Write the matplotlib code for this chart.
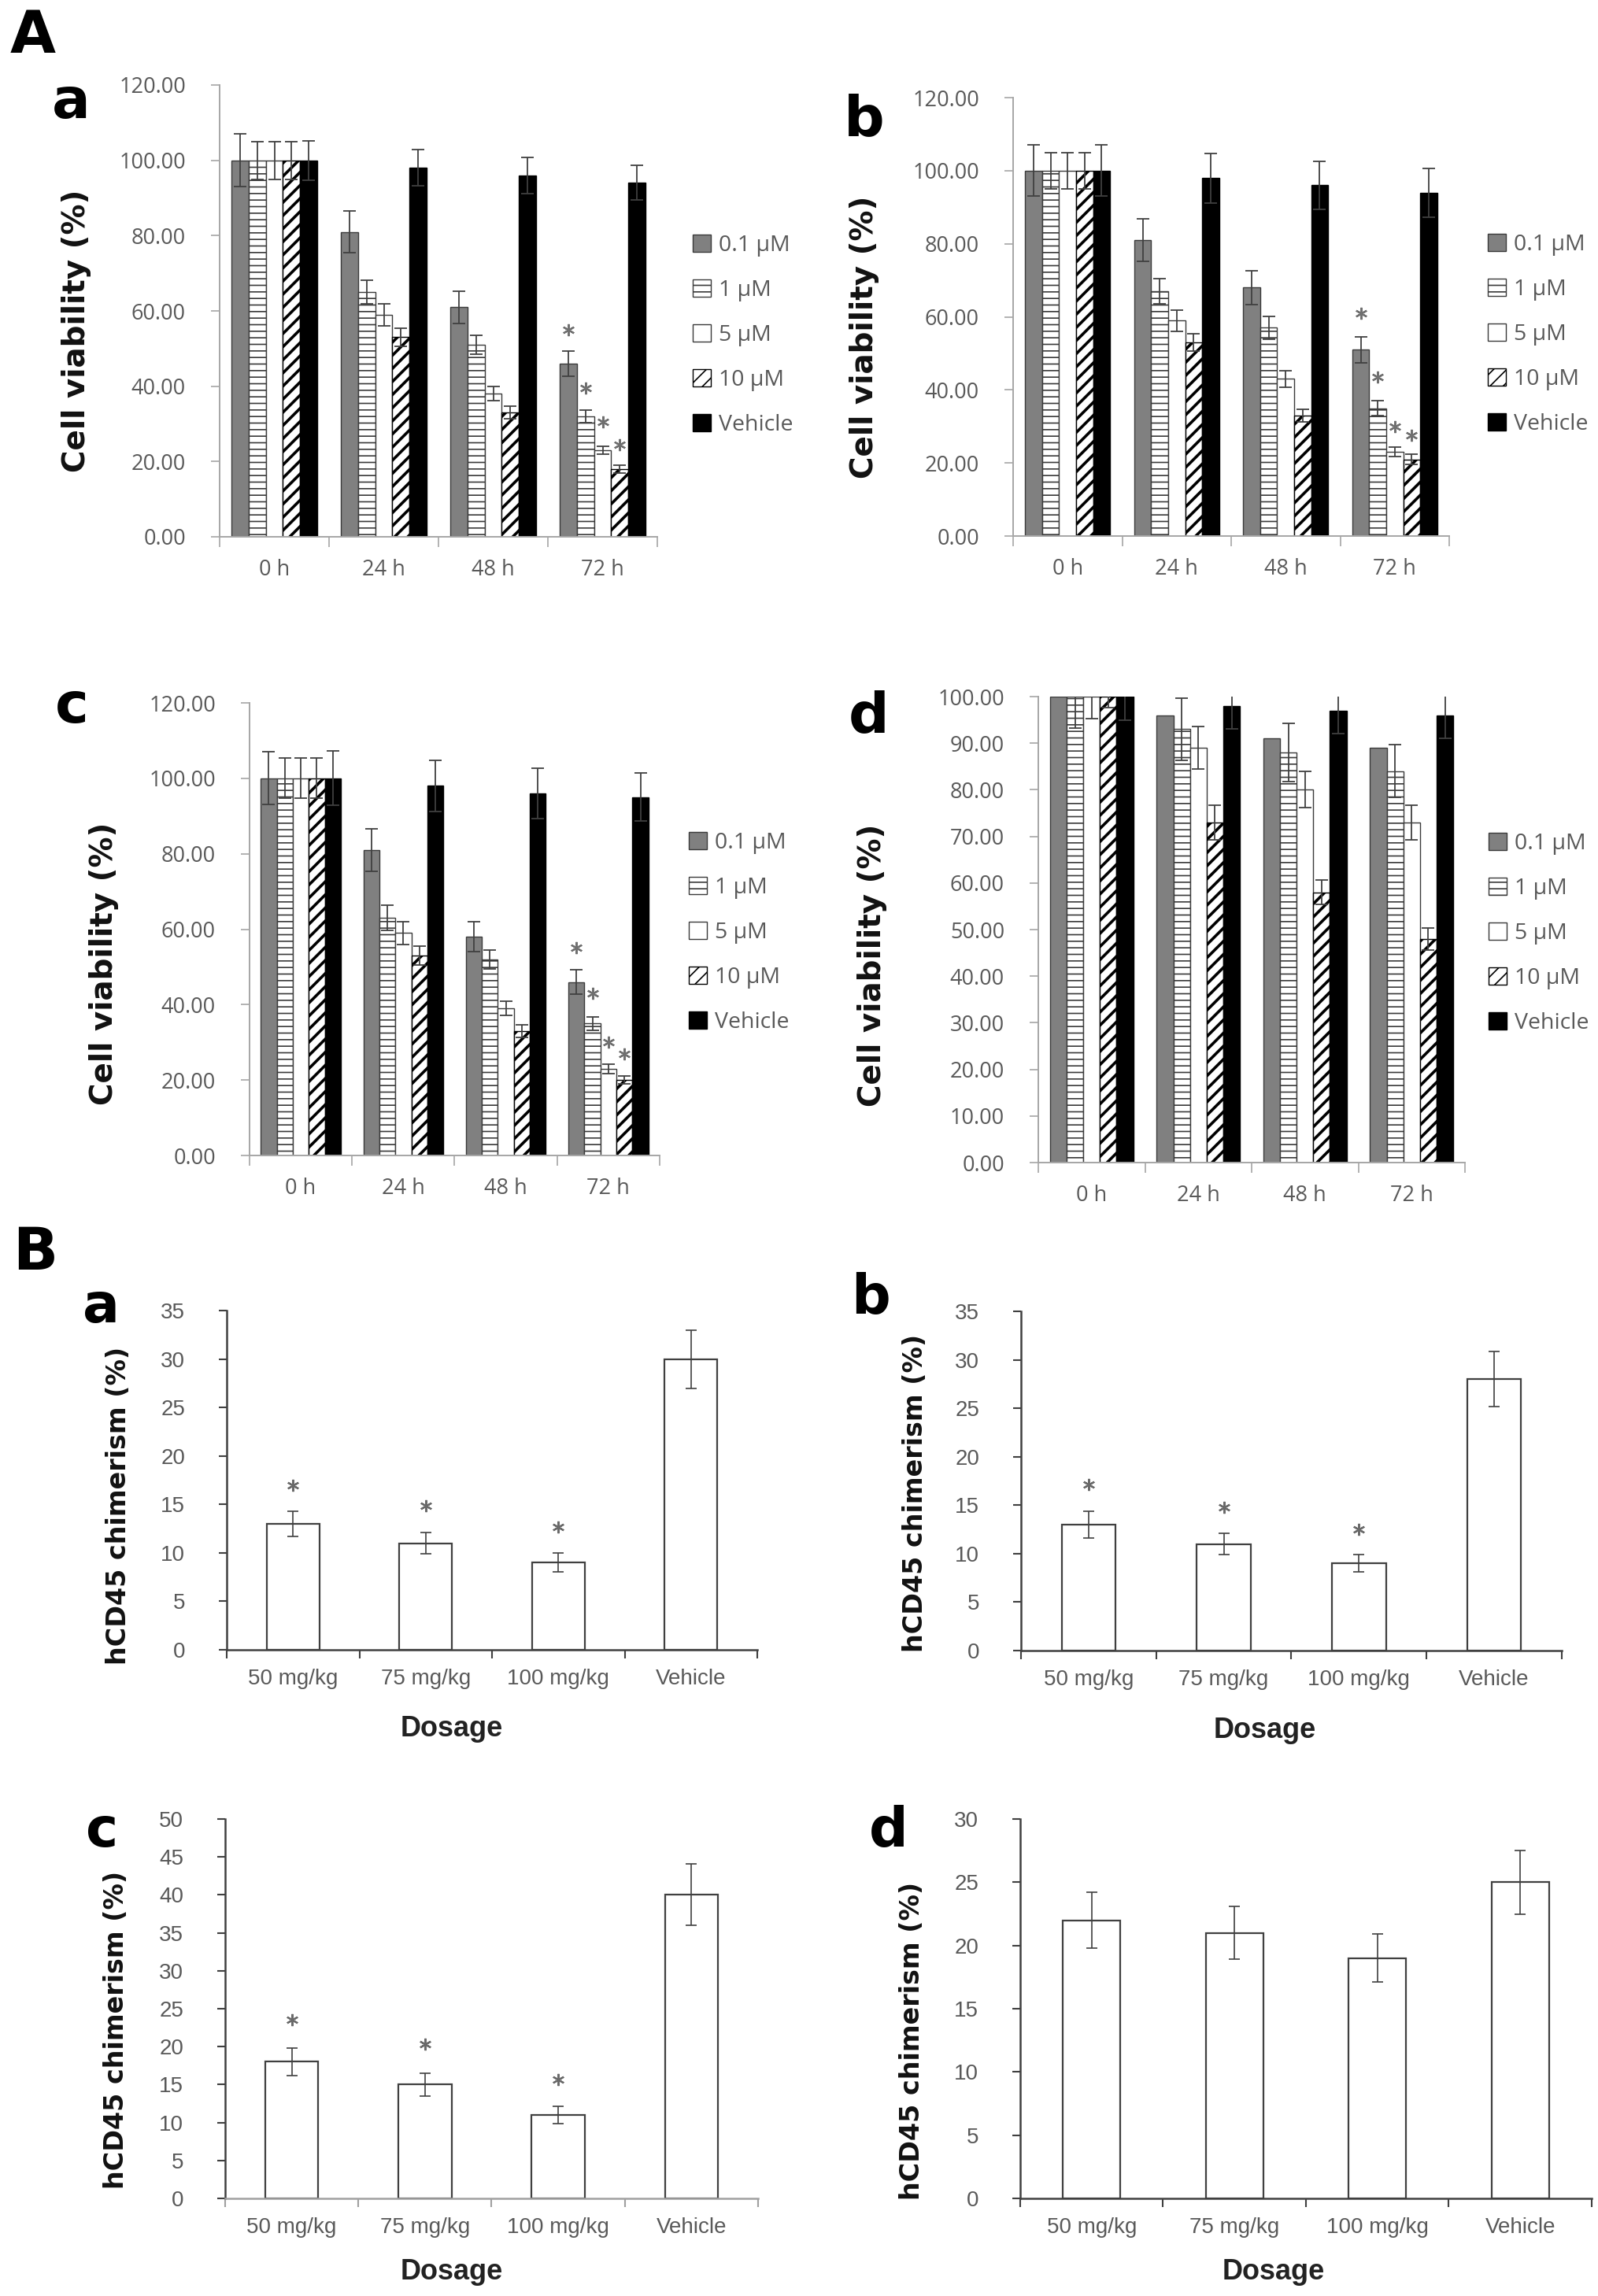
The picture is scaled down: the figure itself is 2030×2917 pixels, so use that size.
import numpy as np
import matplotlib
matplotlib.use('Agg')
import matplotlib.pyplot as plt
from matplotlib.patches import Patch
from matplotlib.ticker import FixedLocator, FormatStrFormatter, NullFormatter

# ---------------- data ----------------
times = ['0 h', '24 h', '48 h', '72 h']
conc = ['0.1 µM', '1 µM', '5 µM', '10 µM', 'Vehicle']

# cell viability (%) per concentration, columns = times
via_a = [[100, 81, 61, 46], [100, 65, 51, 32], [100, 59, 38, 23], [100, 53, 33, 18], [100, 98, 96, 94]]
via_a_err = [[7, 5.5, 4.3, 3.3], [5, 3.2, 2.5, 1.6], [5, 2.9, 1.9, 1.0], [5, 2.5, 1.6, 1.0], [5.2, 4.8, 4.8, 4.6]]
star_a = [55, 39.5, 30.5, 24.5]

via_b = [[100, 81, 68, 51], [100, 67, 57, 35], [100, 59, 43, 23], [100, 53, 33, 21], [100, 98, 96, 94]]
via_b_err = [[7, 5.8, 4.7, 3.5], [5, 3.5, 3.1, 2.0], [5, 2.9, 2.2, 1.3], [5, 2.3, 1.7, 1.3], [7, 6.8, 6.6, 6.7]]
star_b = [61, 43.5, 30, 27.5]

via_c = [[100, 81, 58, 46], [100, 63, 52, 35], [100, 59, 39, 23], [100, 53, 33, 20], [100, 98, 96, 95]]
via_c_err = [[7, 5.6, 4.0, 3.3], [5.3, 3.4, 2.5, 1.8], [5.3, 3.0, 1.9, 1.2], [5.3, 2.5, 1.7, 1.0], [7.2, 6.7, 6.6, 6.4]]
star_c = [55, 43, 30, 27]

via_d = [[100, 96, 91, 89], [100, 93, 88, 84], [100, 89, 80, 73], [100, 73, 58, 48], [100, 98, 97, 96]]
via_d_err = [[0, 0, 0, 0], [6.7, 6.6, 6.3, 5.7], [4.8, 4.5, 3.9, 3.7], [2.3, 3.7, 2.6, 2.4], [5, 5, 5, 5]]
star_d = []

doses = ['50 mg/kg', '75 mg/kg', '100 mg/kg', 'Vehicle']
chim_a = [13, 11, 9, 30]
chim_a_err = [1.3, 1.1, 0.95, 3.0]
chim_a_star = [17.0, 14.9, 12.7]
chim_b = [13, 11, 9, 28]
chim_b_err = [1.35, 1.13, 0.9, 2.85]
chim_b_star = [17.1, 14.8, 12.5]
chim_c = [18, 15, 11, 40]
chim_c_err = [1.8, 1.5, 1.1, 4.05]
chim_c_star = [23.5, 20.3, 15.7]
chim_d = [22, 21, 19, 25]
chim_d_err = [2.2, 2.1, 1.9, 2.5]
chim_d_star = []

# ---------------- figure ----------------
W, H = 2031, 2917
fig = plt.figure(figsize=(W / 100, H / 100), dpi=100)
plt.rcParams['hatch.linewidth'] = 1.2

GRAY_TXT = '#595959'
TICK_FONT = 'Open Sans'
B_FONT = 'Liberation Sans'


def box(l, t, r, b):
    return [l / W, 1 - b / H, (r - l) / W, (b - t) / H]


def fpos(x, y):
    return x / W, 1 - y / H


styles = [dict(facecolor='#808080', edgecolor='#3a3a3a', hatch=None, hlw=1.2),
          dict(facecolor='white', edgecolor='#3a3a3a', hatch='--', hlw=1.2),
          dict(facecolor='white', edgecolor='#3a3a3a', hatch=None, hlw=1.2),
          dict(facecolor='white', edgecolor='black', hatch='//', hlw=2.6),
          dict(facecolor='black', edgecolor='black', hatch=None, hlw=1.2)]


def viability(bx, means, errs, stars, ymax, ystep, leg_xy, letter, letter_xy, lab_xy):
    ax = fig.add_axes(box(*bx))
    x = np.arange(len(times))
    bw = 0.156
    for i, st in enumerate(styles):
        pos = x + (i - 2) * bw
        bars = ax.bar(pos, means[i], bw, facecolor=st['facecolor'], edgecolor=st['edgecolor'],
                      hatch=st['hatch'], linewidth=1.0, zorder=2)
        for p in bars:
            if hasattr(p, 'set_hatch_linewidth'):
                p.set_hatch_linewidth(st['hlw'])
        e = np.array(errs[i], dtype=float)
        m = e > 0
        if m.any():
            ax.errorbar(pos[m], np.array(means[i])[m], yerr=e[m], fmt='none', ecolor='#404040',
                        elinewidth=1.3, capsize=5.5, capthick=1.3, zorder=3)
    if stars:
        sx = x[3] + (np.arange(4) - 2) * bw
        ax.plot(sx, stars, linestyle='none', marker=(6, 2, 0), ms=11, mec='#707070',
                mew=1.6, zorder=4, clip_on=False)
    ax.set_xlim(-0.5, 3.5)
    ax.set_ylim(0, ymax)
    ax.set_yticks(np.arange(0, ymax + 0.1, ystep))
    ax.yaxis.set_major_formatter(FormatStrFormatter('%.2f'))
    ax.xaxis.set_major_locator(FixedLocator(np.arange(-0.5, 3.6, 1)))
    ax.xaxis.set_major_formatter(NullFormatter())
    ax.xaxis.set_minor_locator(FixedLocator(x))
    ax.set_xticklabels(times, minor=True)
    for s in ['top', 'right']:
        ax.spines[s].set_visible(False)
    for s in ['left', 'bottom']:
        ax.spines[s].set_color('#a6a6a6')
        ax.spines[s].set_linewidth(1.4)
    ax.tick_params(axis='y', direction='out', length=8, width=1.2, color='#a6a6a6',
                   labelcolor=GRAY_TXT, labelsize=19.5, pad=23)
    ax.tick_params(axis='x', which='major', direction='out', length=9, width=1.2, color='#a6a6a6')
    ax.tick_params(axis='x', which='minor', length=0, labelcolor=GRAY_TXT, labelsize=19.5, pad=20)
    for t in ax.get_yticklabels() + ax.get_xticklabels(minor=True):
        t.set_fontfamily(TICK_FONT)
    handles = [Patch(facecolor=st['facecolor'], edgecolor=st['edgecolor'], hatch=st['hatch'],
                     linewidth=1.0, label=c) for st, c in zip(styles, conc)]
    lx, ly = fpos(*leg_xy)
    leg = fig.legend(handles=handles, loc='center left', bbox_to_anchor=(lx, ly), frameon=False,
                     borderpad=0, borderaxespad=0, handlelength=0.8, handleheight=0.8,
                     handletextpad=0.35, labelspacing=1.02,
                     prop={'family': TICK_FONT, 'size': 20.5})
    for t in leg.get_texts():
        t.set_color(GRAY_TXT)
    tx, ty = fpos(*letter_xy)
    fig.text(tx, ty, letter, fontsize=52, fontweight='bold', va='baseline', ha='left')
    cx, cy = fpos(*lab_xy)
    fig.text(cx, cy, 'Cell viability (%)', rotation=90, ha='center', va='center',
             fontsize=28, fontweight='bold', color='#111111')
    return ax


def chimerism(bx, means, errs, stars, ymax, ystep, letter, letter_xy, lab_xy, dos_xy, axcol='#404040'):
    ax = fig.add_axes(box(*bx))
    x = np.arange(len(doses))
    ax.bar(x, means, 0.4, facecolor='white', edgecolor='#404040', linewidth=1.6, zorder=2)
    ax.errorbar(x, means, yerr=errs, fmt='none', ecolor='#404040', elinewidth=1.2,
                capsize=4.7, capthick=1.2, zorder=3)
    if stars:
        ax.plot(x[:len(stars)], stars, linestyle='none', marker=(6, 2, 0), ms=11,
                mec='#6a6a6a', mew=1.6, zorder=4)
    ax.set_xlim(-0.5, 3.5)
    ax.set_ylim(0, ymax)
    ax.set_yticks(np.arange(0, ymax + 0.1, ystep))
    ax.xaxis.set_major_locator(FixedLocator(np.arange(-0.5, 3.6, 1)))
    ax.xaxis.set_major_formatter(NullFormatter())
    ax.xaxis.set_minor_locator(FixedLocator(x))
    ax.set_xticklabels(doses, minor=True)
    for s in ['top', 'right']:
        ax.spines[s].set_visible(False)
    ax.spines['left'].set_color('#404040')
    ax.spines['left'].set_linewidth(1.8)
    ax.spines['bottom'].set_color(axcol)
    ax.spines['bottom'].set_linewidth(1.8)
    ax.tick_params(axis='y', direction='out', length=7, width=1.5, color='#404040',
                   labelcolor=GRAY_TXT, labelsize=20, pad=31)
    ax.tick_params(axis='x', which='major', direction='out', length=8, width=1.5, color=axcol)
    ax.tick_params(axis='x', which='minor', length=0, labelcolor=GRAY_TXT, labelsize=20, pad=17)
    for t in ax.get_yticklabels() + ax.get_xticklabels(minor=True):
        t.set_fontfamily(B_FONT)
    tx, ty = fpos(*letter_xy)
    fig.text(tx, ty, letter, fontsize=50, fontweight='bold', va='baseline', ha='left')
    cx, cy = fpos(*lab_xy)
    fig.text(cx, cy, 'hCD45 chimerism (%)', rotation=90, ha='center', va='center',
             fontsize=24, fontweight='bold', color='#111111')
    dx, dy = fpos(*dos_xy)
    fig.text(dx, dy, 'Dosage', ha='center', va='center', fontsize=26, fontweight='bold',
             family=B_FONT, color='#222222')
    return ax


# section letters
fig.text(*fpos(13, 67), 'A', fontsize=54, fontweight='bold', va='baseline', ha='left')
fig.text(*fpos(16, 1613), 'B', fontsize=54, fontweight='bold', va='baseline', ha='left')

viability((279, 108, 835, 682), via_a, via_a_err, star_a, 120, 20, (880, 426), 'a', (66, 150), (97, 420))
viability((1287, 124, 1841, 681), via_b, via_b_err, star_b, 120, 20, (1890, 425), 'b', (1072, 172), (1098, 428))
viability((317, 893, 838, 1468), via_c, via_c_err, star_c, 120, 20, (875, 1185), 'c', (70, 918), (132, 1224))
viability((1319, 885, 1861, 1477), via_d, via_d_err, star_d, 100, 10, (1891, 1186), 'd', (1078, 930), (1108, 1226))

chimerism((288, 1665, 962, 2096), chim_a, chim_a_err, chim_a_star, 35, 5, 'a', (105, 1680), (151, 1913), (574, 2196))
chimerism((1297, 1666, 1984, 2097), chim_b, chim_b_err, chim_b_star, 35, 5, 'b', (1081, 1669), (1162, 1897), (1607, 2198))
chimerism((286, 2311, 963, 2793), chim_c, chim_c_err, chim_c_star, 50, 5, 'c', (109, 2346), (148, 2579), (574, 2887), axcol='#a0a0a0')
chimerism((1296, 2311, 2022, 2793), chim_d, chim_d_err, chim_d_star, 30, 5, 'd', (1104, 2346), (1158, 2593), (1618, 2887))

fig.savefig('out.png', dpi=100, facecolor='white')
